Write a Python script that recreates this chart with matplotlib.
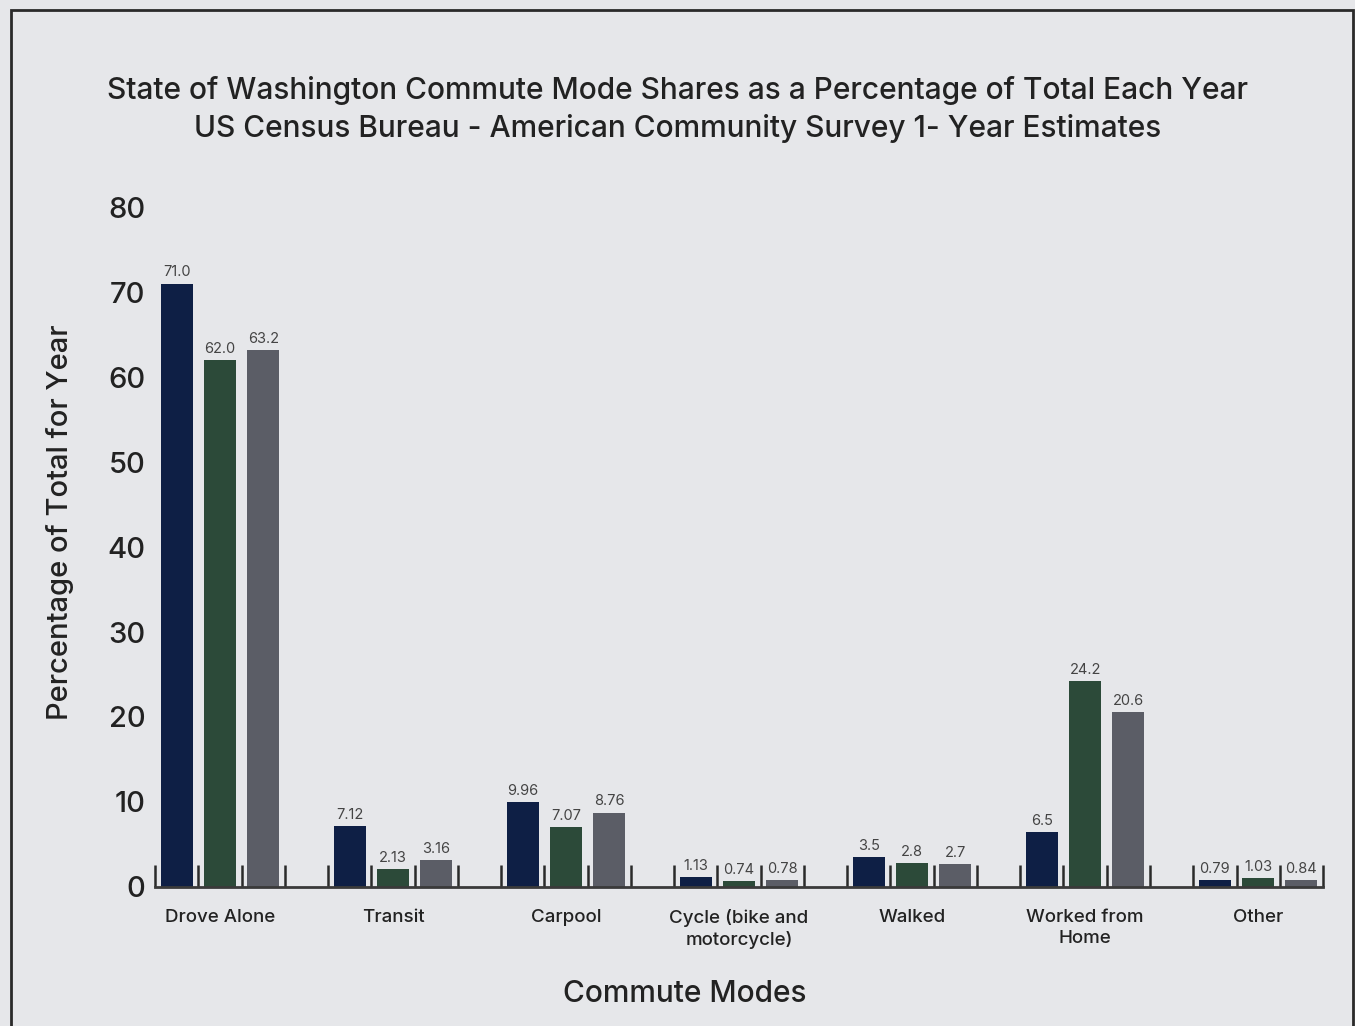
import numpy as np
import matplotlib
matplotlib.use('Agg')
import matplotlib.pyplot as plt
from matplotlib.patches import Rectangle

# ── data ─────────────────────────────────────────────
modes = ["Drove Alone", "Transit", "Carpool", "Cycle (bike and\nmotorcycle)",
         "Walked", "Worked from\nHome", "Other"]
series_a = [71.0, 7.12, 9.96, 1.13, 3.5, 6.5, 0.79]
series_b = [62.0, 2.13, 7.07, 0.74, 2.8, 24.2, 1.03]
series_c = [63.2, 3.16, 8.76, 0.78, 2.7, 20.6, 0.84]
decimals = [1, 2, 2, 2, 1, 1, 2]
y_ticks = [0, 10, 20, 30, 40, 50, 60, 70, 80]

BG = '#e6e7ea'; TXT = '#222222'
colors = ['#0e1f45', '#2c4a39', '#5b5d66']

plt.rcParams['font.family'] = ['Inter', 'DejaVu Sans']
plt.rcParams['font.weight'] = 'medium'
plt.rcParams['axes.labelweight'] = 'medium'

fig = plt.figure(figsize=(13.55, 10.26), dpi=100)
fig.patch.set_facecolor(BG)
ax = fig.add_axes([0.1144, 0.1355, 0.9764 - 0.1144, 0.7982 - 0.1355])
ax.set_facecolor(BG)

slot = 4
width = 0.74
groups = np.arange(len(modes)) * slot
for i, vals in enumerate([series_a, series_b, series_c]):
    xs = groups + i + 0.5
    bars = ax.bar(xs, vals, width, color=colors[i], zorder=2)
    labels = [f"{v:.{d}f}" for v, d in zip(vals, decimals)]
    ax.bar_label(bars, labels=labels, padding=3, fontsize=10.5, color='#444444',
                 fontweight='normal')

n_slots = len(modes) * slot - 1
ax.set_xlim(0, n_slots)
ax.set_ylim(0, 80)
ax.set_yticks(y_ticks)
ax.tick_params(axis='y', length=0, labelsize=21, labelcolor=TXT, pad=7)

ax.set_xticks(groups + 1.5)
ax.set_xticklabels(modes, fontsize=13.5, color=TXT, linespacing=1.3)
ax.tick_params(axis='x', which='major', length=0, pad=16)
ax.set_xticks(np.arange(0, n_slots + 1), minor=True)
ax.tick_params(axis='x', which='minor', direction='in', length=16, width=1.8, color='#2a2a2a')

for s in ['top', 'right', 'left']:
    ax.spines[s].set_visible(False)
ax.spines['bottom'].set_linewidth(2)
ax.spines['bottom'].set_color('#3a3a3a')

ax.set_ylabel("Percentage of Total for Year", fontsize=21, color=TXT, va='center')
ax.yaxis.set_label_coords(-0.0813, 0.537)
ax.set_xlabel("Commute Modes", fontsize=21.5, color=TXT, va='center')
ax.xaxis.set_label_coords(0.4538, -0.158)

fig.text(0.5, 0.893, "State of Washington Commute Mode Shares as a Percentage of Total Each Year\n"
         "US Census Bureau - American Community Survey 1- Year Estimates",
         ha='center', va='center', fontsize=21.5, color=TXT, linespacing=1.38)

# frame around the chart
fig.patches.append(Rectangle((11 / 1355, -0.05), (1353 - 11) / 1355, 1.05 - 10 / 1026,
                             transform=fig.transFigure, fill=False,
                             edgecolor='#2a2a2a', linewidth=2))

plt.savefig('out.png', dpi=100, facecolor=BG)
